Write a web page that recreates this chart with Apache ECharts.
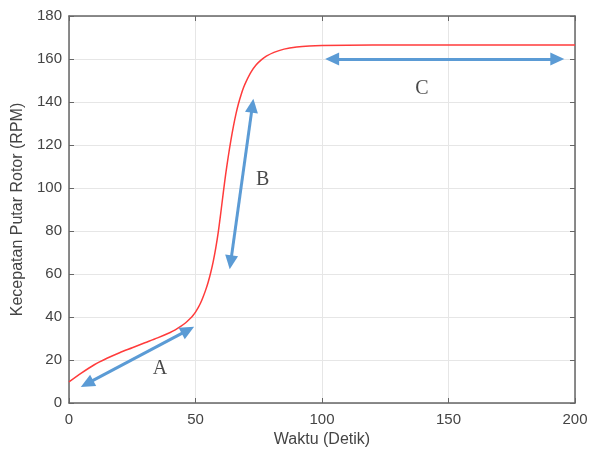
<!DOCTYPE html>
<html>
<head>
<meta charset="utf-8">
<script src="https://cdn.jsdelivr.net/npm/echarts@6/dist/echarts.min.js"></script>
<style>
  html, body {margin: 0; padding: 0; background: #fff;}
  #chart {width: 591px; height: 455px;}
</style>
</head>
<body>
<div id="chart"></div>
<script>
// speed curve: [time (s), rpm]
var speed_curve = [
    [0, 9.8], [5, 14], [10, 17.8], [15, 20.8], [20, 23.4], [25, 25.7],
    [30, 28], [35, 30.3], [40, 32.8], [42, 34], [44, 35.5], [46, 37.2],
    [48, 39.4], [49, 40.7], [50, 42.3], [51, 44.2], [52, 46.5], [53, 49.3],
    [54, 52.5], [55, 56.2], [56, 60.6], [57, 65.8], [58, 72], [59, 79.5],
    [60, 88.5], [61, 98], [62, 107], [63, 115], [64, 122.3], [65, 128.8],
    [66, 134.5], [67, 139.3], [68, 143.3], [69, 146.7], [70, 149.5],
    [72, 154], [74, 157.3], [76, 159.6], [78, 161.3], [81, 163.1],
    [85, 164.6], [90, 165.6], [95, 166.1], [100, 166.3], [120, 166.5],
    [200, 166.5]
];
// double arrows A, B, C: [start, end]
var arrow_a = [[7.1, 9], [47, 33.9]];
var arrow_b = [[63.9, 65.4], [72.5, 138.3]];
var arrow_c = [[104, 160], [193, 160]];
var region_labels = [[36, 16, 'A'], [76.5, 104, 'B'], [139.5, 146, 'C']];
var x_ticks = {min: 0, max: 200, interval: 50};
var y_ticks = {min: 0, max: 180, interval: 20};

var axis_color = '#666';
var label_style = {color: '#444', fontSize: 15, fontFamily: 'Liberation Sans'};
var grid_line = {show: true, lineStyle: {color: '#e6e6e6', width: 1}};

function make_arrow(seg) {
    return [{coord: seg[0]}, {coord: seg[1]}];
}

var chart = echarts.init(document.getElementById('chart'), null, {renderer: 'canvas'});
chart.setOption({
    animation: false,
    grid: {left: 69, top: 16, right: 16, bottom: 52},
    xAxis: [
        Object.assign({}, x_ticks, {
            type: 'value', position: 'bottom',
            name: 'Waktu (Detik)', nameLocation: 'middle', nameGap: 28,
            nameTextStyle: {color: '#444', fontSize: 16, fontFamily: 'Liberation Sans'},
            axisLine: {show: true, onZero: false, lineStyle: {color: axis_color, width: 1.5}},
            axisTick: {show: true, inside: true, length: 5, lineStyle: {color: axis_color}},
            axisLabel: Object.assign({margin: 9}, label_style),
            splitLine: grid_line
        }),
        Object.assign({}, x_ticks, {
            type: 'value', position: 'top',
            axisLine: {show: true, onZero: false, lineStyle: {color: axis_color, width: 1.5}},
            axisTick: {show: true, inside: true, length: 5, lineStyle: {color: axis_color}},
            axisLabel: {show: false},
            splitLine: {show: false}
        })
    ],
    yAxis: [
        Object.assign({}, y_ticks, {
            type: 'value', position: 'left',
            name: 'Kecepatan Putar Rotor (RPM)', nameLocation: 'middle', nameGap: 40,
            nameTextStyle: {color: '#444', fontSize: 16, fontFamily: 'Liberation Sans'},
            axisLine: {show: true, onZero: false, lineStyle: {color: axis_color, width: 1.5}},
            axisTick: {show: true, inside: true, length: 5, lineStyle: {color: axis_color}},
            axisLabel: Object.assign({margin: 7}, label_style),
            splitLine: grid_line
        }),
        Object.assign({}, y_ticks, {
            type: 'value', position: 'right',
            axisLine: {show: true, onZero: false, lineStyle: {color: axis_color, width: 1.5}},
            axisTick: {show: true, inside: true, length: 5, lineStyle: {color: axis_color}},
            axisLabel: {show: false},
            splitLine: {show: false}
        })
    ],
    series: [
        {
            type: 'line', data: speed_curve, smooth: 0.3, showSymbol: false,
            lineStyle: {color: '#ff3b3b', width: 1.5},
            markLine: {
                silent: true, symbol: ['triangle', 'triangle'], symbolSize: [13, 14],
                label: {show: false},
                lineStyle: {color: '#5b9bd5', width: 3, type: 'solid'},
                data: [make_arrow(arrow_a), make_arrow(arrow_b), make_arrow(arrow_c)]
            }
        },
        {
            type: 'scatter', symbolSize: 0, silent: true,
            data: region_labels.map(function (r) {return {value: [r[0], r[1]], name: r[2]};}),
            label: {
                show: true, position: 'inside', formatter: '{b}',
                color: '#1a1a1a', fontSize: 20, fontFamily: 'Liberation Serif'
            }
        }
    ]
});
</script>
</body>
</html>
